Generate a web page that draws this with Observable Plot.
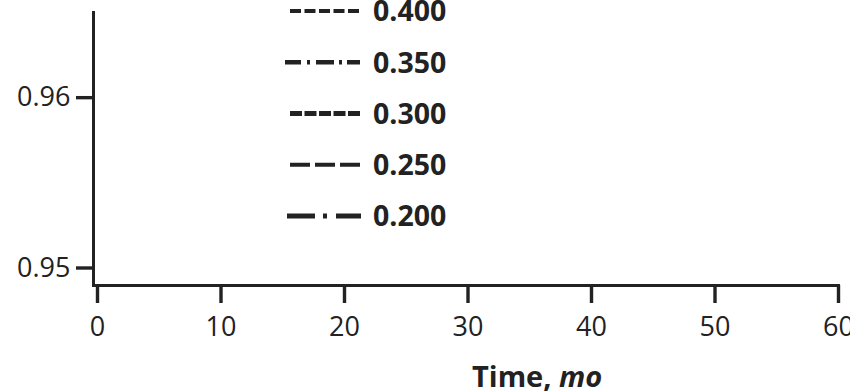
<!DOCTYPE html>
<html>
<head>
<meta charset="utf-8">
<script src="https://cdn.jsdelivr.net/npm/d3@7"></script>
<script src="https://cdn.jsdelivr.net/npm/@observablehq/plot@0.6"></script>
<style>
  html, body { margin: 0; padding: 0; background: #fff; }
  #wrap { position: relative; width: 850px; height: 392px; overflow: hidden; }
  #wrap svg { position: absolute; left: 0; top: 0; }
</style>
</head>
<body>
<div id="wrap"></div>
<script>
// ---- data ----
const xTicks = [0, 10, 20, 30, 40, 50, 60];
const yTicks = [0.95, 0.96];
const xDomain = [0, 60];
const yDomain = [0.95, 0.965];
const seriesLabels = ["0.400", "0.350", "0.300", "0.250", "0.200"];
const xLabel = "Time, ";
const xLabelUnit = "mo";

// ---- styles (kept apart from the data) ----
const dashStyle = {
  "0.400": {dash: "11 3.5", width: 4.0, x1: 290, x2: 360},
  "0.350": {dash: "16 6 3 6 18 5 3 5 14", width: 4.4, x1: 285, x2: 360},
  "0.300": {dash: "12 2.5", width: 5.0, x1: 290, x2: 360},
  "0.250": {dash: "20 5", width: 3.8, x1: 290, x2: 360},
  "0.200": {dash: "28 8 4 9 25", width: 5.2, x1: 287, x2: 362}
};
const ink = "#222";
const font = "'Open Sans', 'Noto Sans', sans-serif";

const chart = Plot.plot({
  width: 850,
  height: 392,
  marginLeft: 93,
  marginRight: 12,
  marginTop: 12,
  marginBottom: 107,
  style: {fontFamily: font, fontSize: "27px", color: ink, background: "#fff"},
  x: {domain: xDomain, insetLeft: 4, ticks: xTicks},
  y: {domain: yDomain, insetBottom: 17.5, ticks: yTicks},
  marks: [
    Plot.axisY(yTicks, {tickSize: 17, tickPadding: 6, strokeWidth: 3.4, tickFormat: d3.format(".2f"), label: null}),
    Plot.axisX(xTicks, {tickSize: 18, tickPadding: 13, strokeWidth: 3.4, tickFormat: d3.format("d"), label: null}),
    Plot.frame({anchor: "left", strokeWidth: 3}),
    Plot.frame({anchor: "bottom", strokeWidth: 3})
  ]
});
document.getElementById("wrap").appendChild(chart);

// ---- legend and axis title overlay ----
const overlay = d3.select("#wrap").append("svg")
  .attr("width", 850).attr("height", 392)
  .style("font-family", font);

const rowY = d3.scalePoint().domain(seriesLabels).range([11, 216]);
const rows = overlay.selectAll("g.row").data(seriesLabels).join("g").attr("class", "row");
rows.append("line")
  .attr("x1", d => dashStyle[d].x1).attr("x2", d => dashStyle[d].x2)
  .attr("y1", d => rowY(d)).attr("y2", d => rowY(d))
  .attr("stroke", ink)
  .attr("stroke-width", d => dashStyle[d].width)
  .attr("stroke-dasharray", d => dashStyle[d].dash);
rows.append("text")
  .attr("x", 373).attr("y", d => rowY(d)).attr("dy", "0.36em")
  .attr("fill", ink).attr("font-size", 28.5).attr("font-weight", 700)
  .text(d => d);

const title = overlay.append("text")
  .attr("x", 472).attr("y", 387)
  .attr("fill", ink).attr("font-size", 29).attr("font-weight", 700);
title.append("tspan").text(xLabel);
title.append("tspan").attr("font-style", "italic").text(xLabelUnit);
</script>
</body>
</html>
